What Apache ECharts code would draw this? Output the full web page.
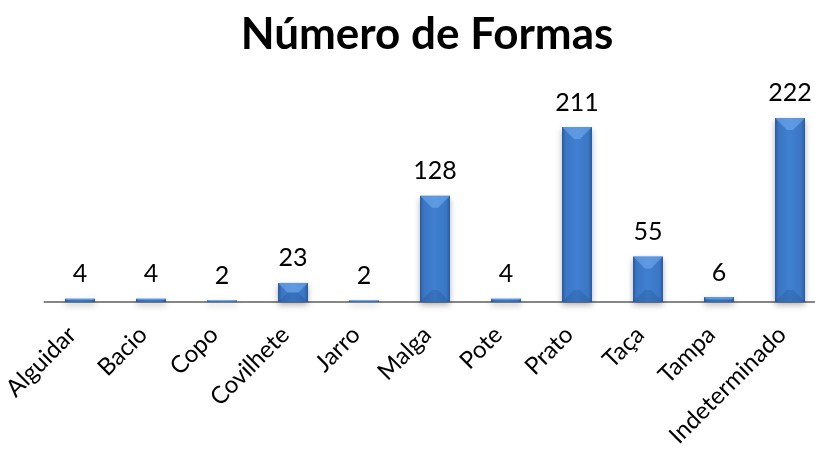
<!DOCTYPE html>
<html>
<head>
<meta charset="utf-8">
<script src="https://cdn.jsdelivr.net/npm/echarts@6/dist/echarts.min.js"></script>
<style>html,body{margin:0;padding:0;background:#fff;overflow:hidden;width:815px;height:449px;}#c{width:826px;height:449px;}</style>
</head>
<body>
<div id="c"></div>
<script>
const categories = ["Alguidar","Bacio","Copo","Covilhete","Jarro","Malga","Pote","Prato","Taça","Tampa","Indeterminado"];
const values = [4,4,2,23,2,128,4,211,55,6,222];
const titleText = "Número de Formas";

const chart = echarts.init(document.getElementById('c'), null, {renderer:'canvas'});
const FONT = 'Lato, "Open Sans", sans-serif';
const BW = 30;
chart.setOption({
  animation:false,
  backgroundColor:'#ffffff',
  title:{
    text:titleText, left:422, top:8, textAlign:'center',
    textStyle:{fontFamily:FONT, fontWeight:'bold', fontSize:44, color:'#000'}
  },
  grid:{left:44.5, top:94.7, width:781, height:207.3, containLabel:false, outerBoundsMode:'none'},
  xAxis:{
    type:'category', data:categories,
    axisLine:{show:true, lineStyle:{color:'#868686', width:2}},
    axisTick:{show:false},
    axisLabel:{rotate:45, interval:0, margin:21, padding:[0,11,0,0], fontFamily:FONT, fontSize:24, color:'#000'}
  },
  yAxis:{type:'value', min:0, max:250, show:false, splitLine:{show:false}},
  series:[{
    type:'bar', data:values, barWidth:BW,
    itemStyle:{
      color:new echarts.graphic.LinearGradient(0,0,1,0,[
        {offset:0,color:'#2a5a9e'},{offset:0.12,color:'#3a76c4'},
        {offset:0.5,color:'#3f80d0'},{offset:0.88,color:'#3a76c4'},{offset:1,color:'#2a5a9e'}]),
      shadowColor:'rgba(0,0,0,0.3)', shadowBlur:6, shadowOffsetY:3
    },
    label:{show:true, position:'top', distance:12, fontFamily:FONT, fontSize:25, color:'#000'}
  },{
    type:'custom', data:values.map((v,i)=>[i,v]), silent:true, z:3,
    renderItem:function(params, api){
      const i = api.value(0), v = api.value(1);
      const top = api.coord([i, v]), base = api.coord([i, 0]);
      const x = top[0], h = base[1]-top[1], hw = BW/2;
      const d = Math.min(12, h/2);
      return {type:'group', children:[
        {type:'polygon', shape:{points:[[x-hw,top[1]],[x+hw,top[1]],[x+hw-d,top[1]+d],[x-hw+d,top[1]+d]]},
         style:{fill:'rgba(120,175,240,0.55)'}},
        {type:'polygon', shape:{points:[[x-hw,base[1]],[x+hw,base[1]],[x+hw-d,base[1]-d],[x-hw+d,base[1]-d]]},
         style:{fill:'rgba(20,50,100,0.18)'}}
      ]};
    }
  }]
});
</script>
</body>
</html>
